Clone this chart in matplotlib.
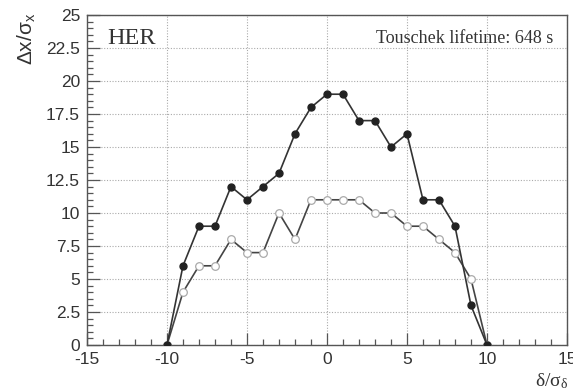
import numpy as np
import matplotlib.pyplot as plt
from matplotlib.ticker import MultipleLocator

plt.rcParams['axes.unicode_minus'] = False

# delta / sigma_delta
delta = [-10, -9, -8, -7, -6, -5, -4, -3, -2, -1, 0, 1, 2, 3, 4, 5, 6, 7, 8, 9, 10]
# aperture, filled points
dx_full = [0, 6, 9, 9, 12, 11, 12, 13, 16, 18, 19, 19, 17, 17, 15, 16, 11, 11, 9, 3, 0]
# aperture, open points
dx_open = [0, 4, 6, 6, 8, 7, 7, 10, 8, 11, 11, 11, 11, 10, 10, 9, 9, 8, 7, 5, 0]
ytick_vals = [0, 2.5, 5, 7.5, 10, 12.5, 15, 17.5, 20, 22.5, 25]
ytick_labels = ['0', '2.5', '5', '7.5', '10', '12.5', '15', '17.5', '20', '22.5', '25']

fig = plt.figure(figsize=(5.73, 3.92), dpi=100)
ax = fig.add_axes([0.1518, 0.1199, 0.8377, 0.8418])

fr = '#555555'
ax.plot(delta, dx_open, color='#444444', lw=1.2, marker='o', ms=5.5,
        mfc='white', mec='#aaaaaa', mew=0.9, zorder=3)
ax.plot(delta, dx_full, color='#333333', lw=1.2, marker='o', ms=5,
        mfc='#222222', mec='#222222', zorder=4)

ax.set_xlim(-15, 15)
ax.set_ylim(0, 25)
ax.xaxis.set_major_locator(MultipleLocator(5))
ax.xaxis.set_minor_locator(MultipleLocator(1))
ax.set_yticks(ytick_vals)
ax.set_yticklabels(ytick_labels)
ax.yaxis.set_minor_locator(MultipleLocator(0.5))

ax.tick_params(which='both', direction='in', top=False, right=False,
               color=fr, labelcolor='#333333', labelsize=12.5,
               labelfontfamily='Liberation Sans')
ax.tick_params(which='major', length=9, width=0.9)
ax.tick_params(which='minor', length=4.5, width=0.9)
ax.tick_params(axis='x', pad=5)
ax.tick_params(axis='y', pad=5)
for s in ax.spines.values():
    s.set_color(fr)
    s.set_linewidth(1.0)

ax.grid(True, which='major', ls=(0, (1, 1.5)), color='#aaaaaa', lw=0.8)

ax.text(0.042, 0.96, 'HER', transform=ax.transAxes, ha='left', va='top',
        fontsize=17.5, family='Liberation Serif', color='#333333')
ax.text(0.971, 0.955, 'Touschek lifetime: 648 s', transform=ax.transAxes,
        ha='right', va='top', fontsize=13, family='Liberation Serif',
        color='#333333')

# axis titles, ROOT style (at the ends of the axes)
fig.text(0.047, 0.968, r'$\mathregular{Δx/σ_x}$', rotation=90, ha='center',
         va='top', fontsize=15, family='Liberation Sans', color='#333333')
fig.text(0.992, 0.003, r'$\mathregular{δ/σ_δ}$', ha='right', va='bottom',
         fontsize=14, family='Liberation Serif', color='#333333')

fig.savefig('out.png', dpi=100)
